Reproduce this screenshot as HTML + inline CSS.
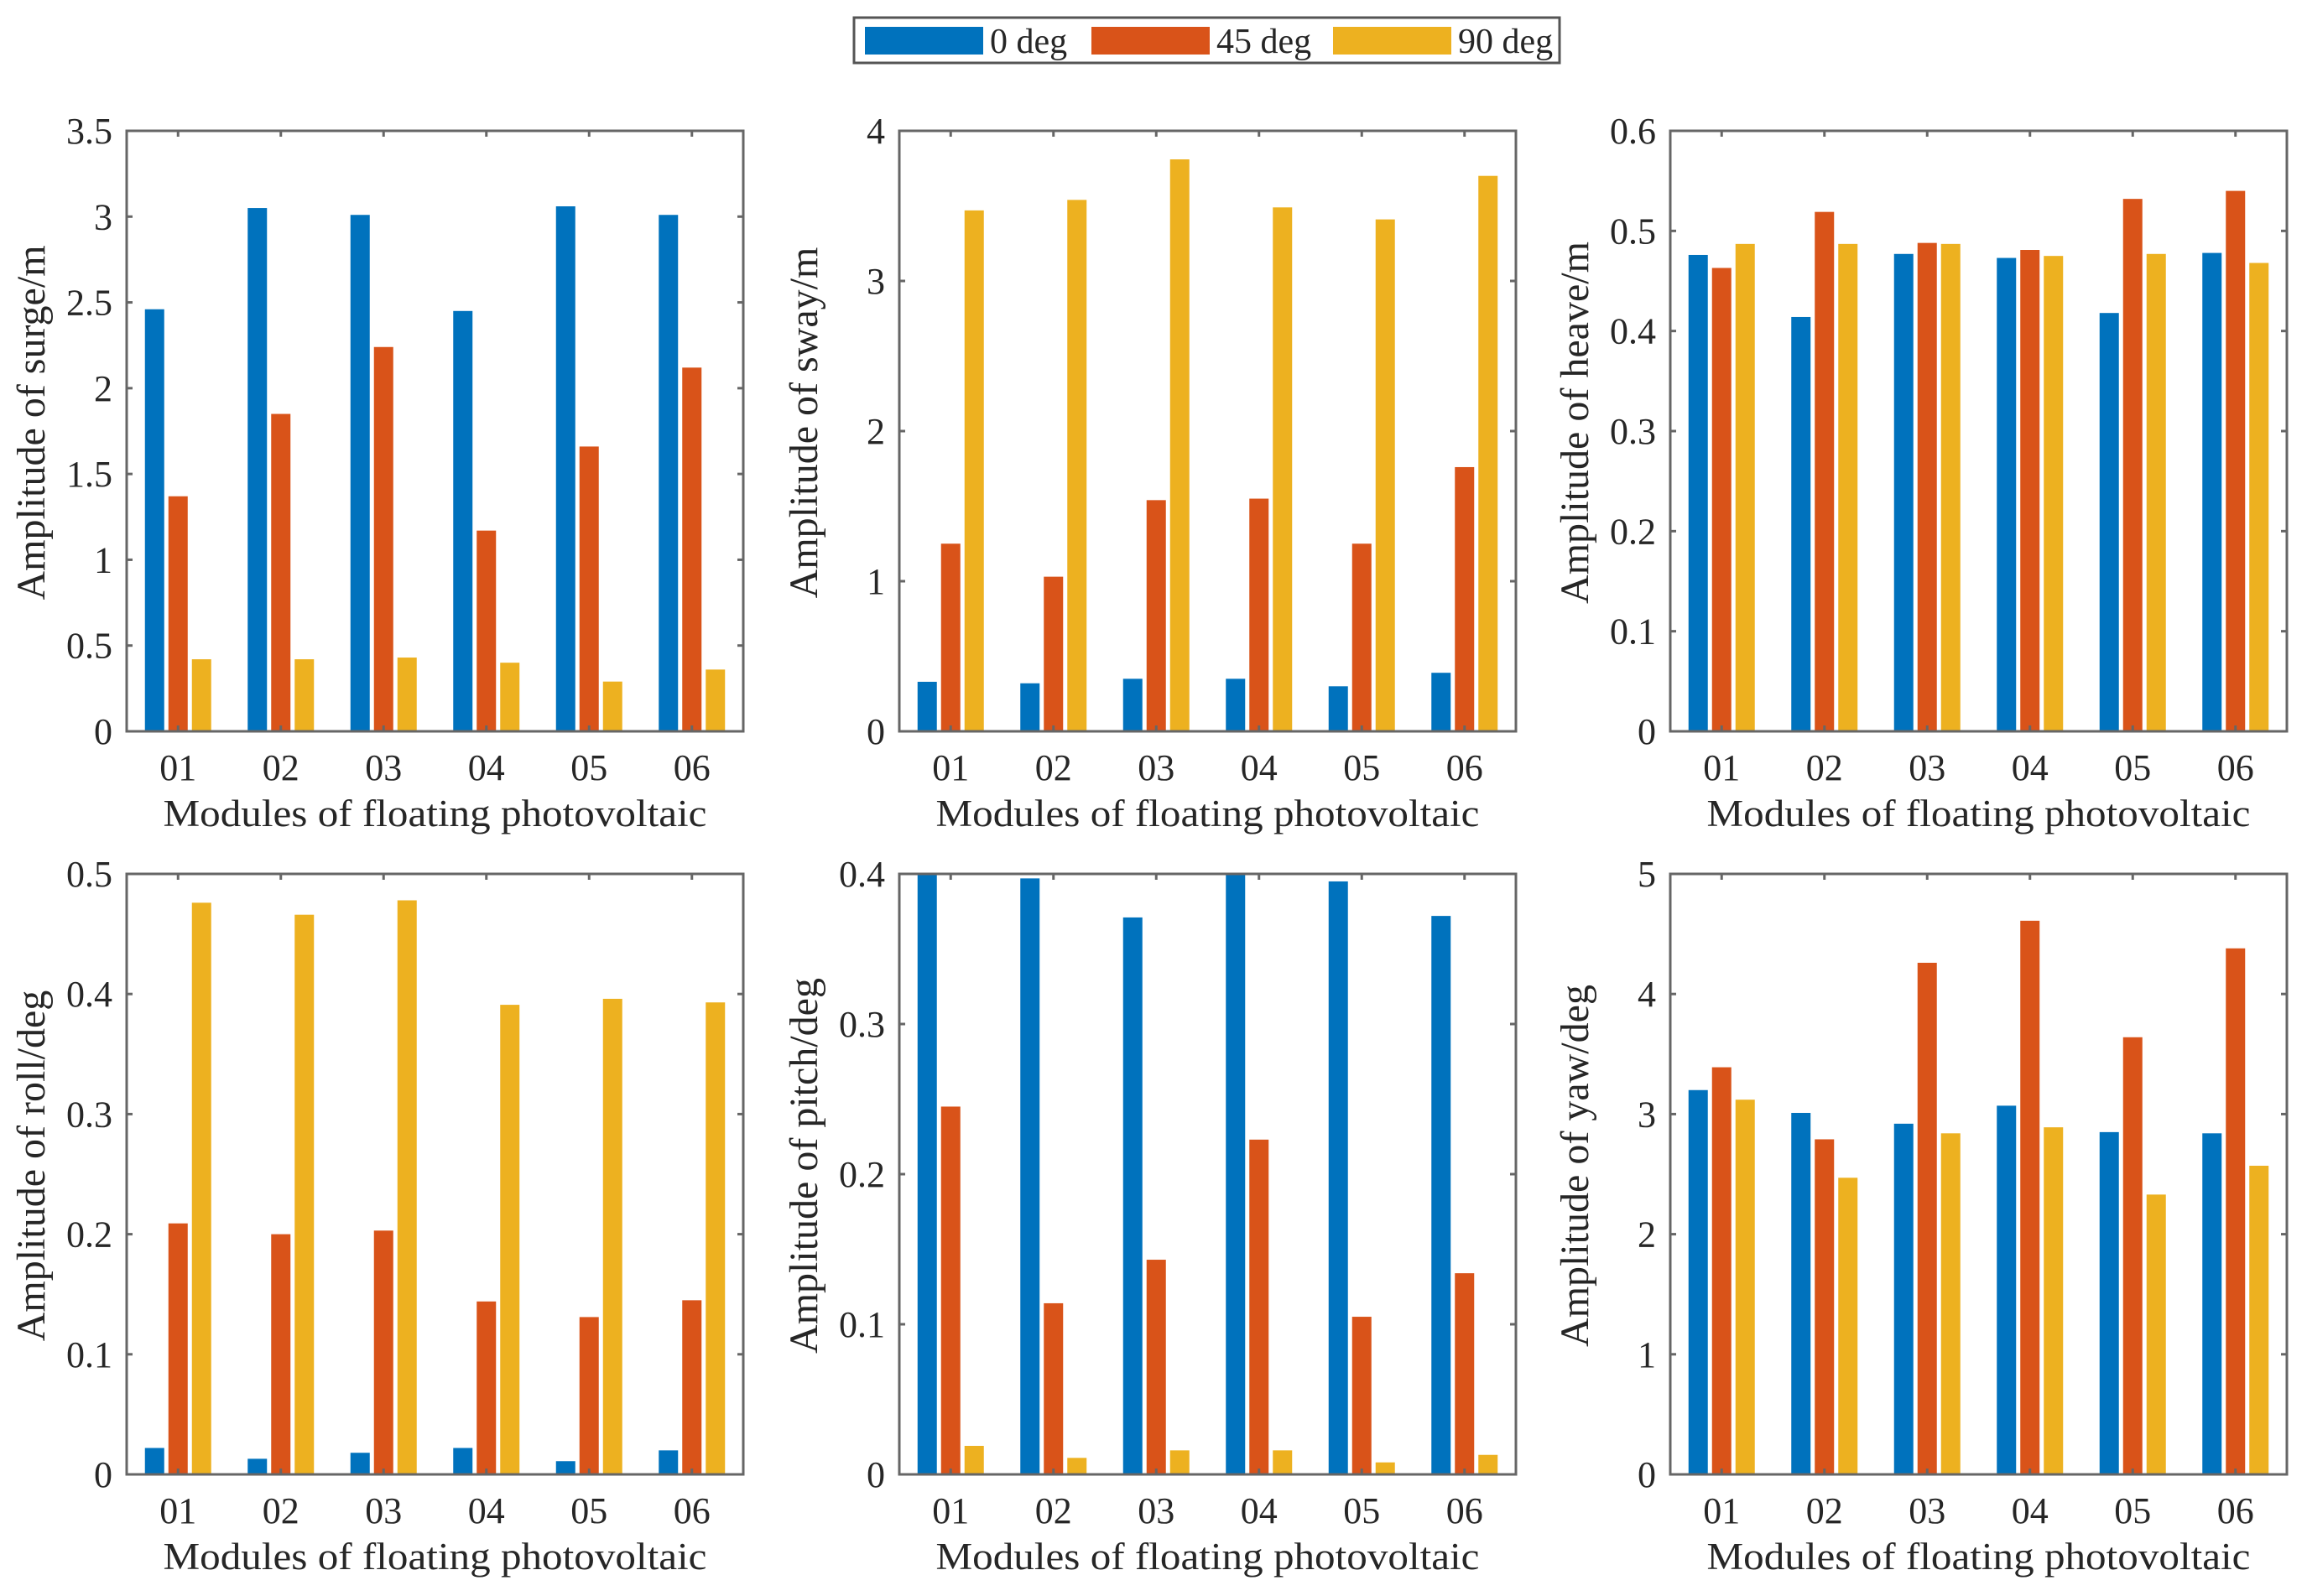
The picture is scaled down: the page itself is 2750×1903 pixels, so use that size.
<!DOCTYPE html>
<html><head><meta charset="utf-8"><style>
html,body{margin:0;padding:0;background:#fff;}
svg{display:block;}
text{font-family:"Liberation Serif",serif;fill:#262626;}
</style></head><body>
<svg id="fig" width="2750" height="1903" viewBox="0 0 2750 1903" xmlns="http://www.w3.org/2000/svg">
<g>
<rect x="1018" y="21" width="841" height="54" fill="#fff" stroke="#555" stroke-width="3"/>
<rect x="1031" y="32" width="141" height="33" fill="#0072BD"/>
<text x="1180" y="63" font-size="42">0 deg</text>
<rect x="1301" y="32" width="141" height="33" fill="#D95319"/>
<text x="1450" y="63" font-size="42">45 deg</text>
<rect x="1589" y="32" width="141" height="33" fill="#EDB120"/>
<text x="1738" y="63" font-size="42">90 deg</text>
</g>
</svg>
<script>
const categories = ["01","02","03","04","05","06"];
const seriesNames = ["0 deg","45 deg","90 deg"];
const surge0 = [2.46,3.05,3.01,2.45,3.06,3.01];
const surge45 = [1.37,1.85,2.24,1.17,1.66,2.12];
const surge90 = [0.42,0.42,0.43,0.40,0.29,0.36];
const sway0 = [0.33,0.32,0.35,0.35,0.30,0.39];
const sway45 = [1.25,1.03,1.54,1.55,1.25,1.76];
const sway90 = [3.47,3.54,3.81,3.49,3.41,3.70];
const heave0 = [0.476,0.414,0.477,0.473,0.418,0.478];
const heave45 = [0.463,0.519,0.488,0.481,0.532,0.540];
const heave90 = [0.487,0.487,0.487,0.475,0.477,0.468];
const roll0 = [0.022,0.013,0.018,0.022,0.011,0.020];
const roll45 = [0.209,0.200,0.203,0.144,0.131,0.145];
const roll90 = [0.476,0.466,0.478,0.391,0.396,0.393];
const pitch0 = [0.400,0.397,0.371,0.400,0.395,0.372];
const pitch45 = [0.245,0.114,0.143,0.223,0.105,0.134];
const pitch90 = [0.019,0.011,0.016,0.016,0.008,0.013];
const yaw0 = [3.20,3.01,2.92,3.07,2.85,2.84];
const yaw45 = [3.39,2.79,4.26,4.61,3.64,4.38];
const yaw90 = [3.12,2.47,2.84,2.89,2.33,2.57];
const surgeTicks = ["0","0.5","1","1.5","2","2.5","3","3.5"];
const swayTicks = ["0","1","2","3","4"];
const heaveTicks = ["0","0.1","0.2","0.3","0.4","0.5","0.6"];
const rollTicks = ["0","0.1","0.2","0.3","0.4","0.5"];
const pitchTicks = ["0","0.1","0.2","0.3","0.4"];
const yawTicks = ["0","1","2","3","4","5"];

const NS="http://www.w3.org/2000/svg";
const svg=document.getElementById('fig');
const colors=["#0072BD","#D95319","#EDB120"];
function mk(tag,attrs,parent){const e=document.createElementNS(NS,tag);for(const k in attrs)e.setAttribute(k,attrs[k]);parent.appendChild(e);return e;}

const panels=[
 {key:"surge",label:"Amplitude of surge/m",s:[surge0,surge45,surge90],ticks:surgeTicks,x:151,y:156},
 {key:"sway",label:"Amplitude of sway/m",s:[sway0,sway45,sway90],ticks:swayTicks,x:1072,y:156},
 {key:"heave",label:"Amplitude of heave/m",s:[heave0,heave45,heave90],ticks:heaveTicks,x:1991,y:156},
 {key:"roll",label:"Amplitude of roll/deg",s:[roll0,roll45,roll90],ticks:rollTicks,x:151,y:1042},
 {key:"pitch",label:"Amplitude of pitch/deg",s:[pitch0,pitch45,pitch90],ticks:pitchTicks,x:1072,y:1042},
 {key:"yaw",label:"Amplitude of yaw/deg",s:[yaw0,yaw45,yaw90],ticks:yawTicks,x:1991,y:1042}
];
const W=735,H=716;
panels.forEach(p=>{
 const g=mk('g',{},svg);
 
 
 const tv=p.ticks.map(Number);
 const ymax=tv[tv.length-1];
 const yS=v=>p.y+H-(v/ymax)*H;
 const band=W/categories.length;
 const xC=i=>p.x+(i+0.5)*band;
 p.s.forEach((arr,si)=>{
  arr.forEach((v,i)=>{
   const r=mk('rect',{x:xC(i)+(si-1)*28-11.5,y:yS(v),width:23,height:yS(0)-yS(v),fill:colors[si]},g);
   
   
  });
 });
 const box=mk('rect',{x:p.x,y:p.y,width:W,height:H,fill:'none',stroke:'#666','stroke-width':3},g);
 
 
 p.ticks.forEach((t,i)=>{
  const y=yS(tv[i]);
  mk('line',{x1:p.x,x2:p.x+7,y1:y,y2:y,stroke:'#666','stroke-width':3},g);
  mk('line',{x1:p.x+W,x2:p.x+W-7,y1:y,y2:y,stroke:'#666','stroke-width':3},g);
  const tx=mk('text',{x:p.x-17,y:y+15,'font-size':44,'text-anchor':'end'},g);
  tx.textContent=t;
  
  
 });
 categories.forEach((c,i)=>{
  const x=xC(i);
  mk('line',{x1:x,x2:x,y1:p.y+H,y2:p.y+H-7,stroke:'#666','stroke-width':3},g);
  mk('line',{x1:x,x2:x,y1:p.y,y2:p.y+7,stroke:'#666','stroke-width':3},g);
  const tx=mk('text',{x:x,y:p.y+H+58,'font-size':44,'text-anchor':'middle'},g);
  tx.textContent=c;
  
  
 });
 const xl=mk('text',{x:p.x+W/2,y:p.y+H+113,'font-size':45,'text-anchor':'middle',textLength:648,lengthAdjust:'spacingAndGlyphs'},g);
 xl.textContent="Modules of floating photovoltaic";
 
 
 const lx=p.x-98, ly=p.y+H/2-10;
 const yl=mk('text',{x:lx,y:ly,'font-size':48,'text-anchor':'middle',transform:`rotate(-90 ${lx} ${ly})`},g);
 yl.textContent=p.label;
 
 
});
</script>
</body></html>
